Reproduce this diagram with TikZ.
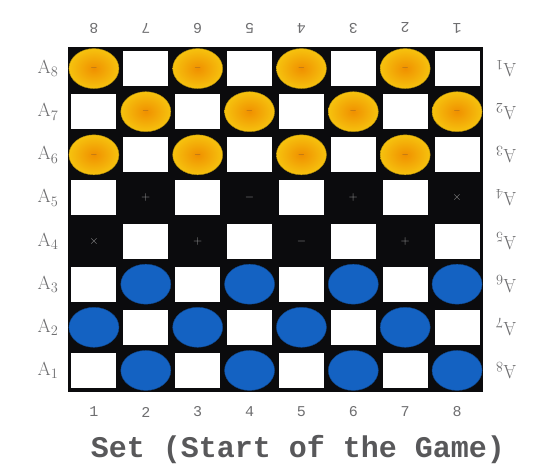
\documentclass[tikz,border=0pt]{standalone}
\usepackage{fontspec}
\newfontfamily\capfont{Liberation Mono}
\definecolor{pieceGold}{HTML}{F6C20E}
\definecolor{pieceCore}{HTML}{F09000}
\definecolor{pieceBlue}{HTML}{1462C2}
\definecolor{boardDark}{HTML}{0B0B0D}
\definecolor{labelGray}{HTML}{6E6E70}
\usetikzlibrary{positioning,shapes.geometric}

\begin{document}
\begin{tikzpicture}[x=1pt, y=-1pt,
  lightsq/.style={fill=white, minimum width=45pt, minimum height=35pt, inner sep=0pt},
  goldpc/.style={ellipse, inner color=pieceCore, outer color=pieceGold,
                 draw=pieceGold!70!black, minimum width=50pt, minimum height=40pt,
                 inner sep=0pt, text=brown!70!black, font=\small},
  bluepc/.style={ellipse, fill=pieceBlue, draw=pieceBlue!70!black,
                 minimum width=50pt, minimum height=40pt, inner sep=0pt},
  hint/.style={text=gray!80, font=\large, inner sep=0pt},
  rowlab/.style={text=labelGray, font=\fontsize{19}{20}\selectfont},
  collab/.style={text=labelGray, font=\capfont\fontsize{15}{16}\selectfont}
]
\useasboundingbox[fill=white] (0,0) rectangle (542,469);
% board
\fill[boardDark] (68,47) rectangle (483,392);
\foreach \r in {1,...,8}
  \foreach \c in {1,...,8}{
    \pgfmathtruncatemacro\parity{mod(\r+\c,2)}
    \ifnum\parity=1
      \node[lightsq] (sq-\r-\c) at ({68+51.875*(\c-0.5)},{47+43.125*(\r-0.5)}) {};
    \else
      \ifnum\r<4
        \node[goldpc] (pc-\r-\c) at ({68+51.875*(\c-0.5)},{47+43.125*(\r-0.5)}) {$-$};
      \fi
      \ifnum\r>5
        \node[bluepc] (pc-\r-\c) at ({68+51.875*(\c-0.5)},{47+43.125*(\r-0.5)}) {};
      \fi
    \fi
  }
% marks on the empty dark squares
\foreach \c/\m in {2/+,4/-,6/+,8/\times}
  \node[hint] (mk-4-\c) at ({68+51.875*(\c-0.5)},{47+43.125*3.5}) {$\m$};
\foreach \c/\m in {1/\times,3/+,5/-,7/+}
  \node[hint] (mk-5-\c) at ({68+51.875*(\c-0.5)},{47+43.125*4.5}) {$\m$};
% row labels
\foreach \r in {1,...,8}{
  \pgfmathtruncatemacro\k{9-\r}
  \node[rowlab] (left-\r) at (48,{47+43.125*(\r-0.5)}) {A$_{\k}$};
  \node[rowlab, rotate=180] (right-\r) at (506,{47+43.125*(\r-0.5)}) {A$_{\r}$};
}
% column labels
\foreach \c in {1,...,8}{
  \pgfmathtruncatemacro\k{9-\c}
  \node[collab] (bot-\c) at ({68+51.875*(\c-0.5)},412) {\c};
  \node[collab, rotate=180] (top-\c) at ({68+51.875*(\c-0.5)},28) {\k};
}
\node[text=labelGray!80!black, font=\capfont\bfseries\fontsize{30}{32}\selectfont]
  (caption) at (298,450) {Set (Start of the Game)};
\end{tikzpicture}
\end{document}
